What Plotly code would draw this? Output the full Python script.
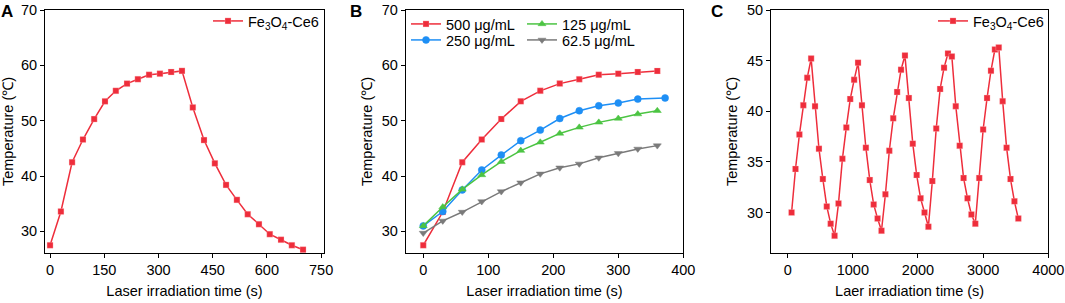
import plotly.graph_objects as go

# ---------------- data ----------------
# Panel A: heating / cooling curve
a_time = [0, 30, 61, 91, 122, 152, 182, 213, 243, 274, 304, 335, 365,
          395, 426, 456, 487, 517, 547, 578, 608, 639, 669, 700]
a_temp = [27.5, 33.6, 42.5, 46.6, 50.3, 53.5, 55.4, 56.7, 57.5, 58.3, 58.5, 58.8, 59.0,
          52.4, 46.5, 42.3, 38.4, 35.7, 33.1, 31.3, 29.5, 28.5, 27.5, 26.7]

# Panel B: concentration dependence
b_time = [0, 30, 60, 90, 120, 150, 180, 210, 240, 270, 300, 330, 360]
b_time_250 = [0, 30, 60, 90, 120, 150, 180, 210, 240, 270, 300, 330, 372]
b_500 = [27.5, 33.5, 42.5, 46.6, 50.3, 53.5, 55.4, 56.7, 57.5, 58.3, 58.5, 58.8, 59.0]
b_250 = [31.0, 33.6, 37.5, 41.1, 43.8, 46.4, 48.3, 50.4, 51.8, 52.7, 53.2, 53.9, 54.1]
b_125 = [31.0, 34.4, 37.6, 40.2, 42.6, 44.6, 46.1, 47.7, 48.8, 49.7, 50.4, 51.2, 51.8]
b_62 = [29.7, 31.9, 33.5, 35.4, 37.2, 38.8, 40.4, 41.5, 42.2, 43.3, 44.1, 44.9, 45.5]

# Panel C: on/off cycles
c_time = [60, 120, 180, 240, 300, 360, 420, 480, 540, 600, 660, 720,
          780, 840, 900, 960, 1020, 1080, 1140, 1200, 1260, 1320, 1380, 1440,
          1500, 1560, 1620, 1680, 1740, 1800, 1860, 1920, 1980, 2040, 2100, 2160,
          2220, 2280, 2340, 2400, 2460, 2520, 2580, 2640, 2700, 2760, 2820, 2880,
          2940, 3000, 3060, 3120, 3180, 3240, 3300, 3360, 3420, 3480, 3540]
c_temp = [30.0, 34.3, 37.7, 40.6, 43.3, 45.2, 40.5, 36.3, 33.3, 30.6, 28.9, 27.7,
          30.9, 35.3, 38.4, 41.2, 43.1, 44.8, 40.6, 36.4, 33.2, 30.8, 29.4, 28.2,
          31.8, 36.1, 39.3, 41.9, 44.1, 45.5, 41.3, 36.8, 33.7, 31.4, 30.0, 28.6,
          33.1, 38.3, 42.2, 44.3, 45.7, 45.4, 40.5, 36.6, 33.4, 31.4, 29.8, 28.9,
          33.4, 38.2, 41.3, 44.0, 46.1, 46.3, 41.0, 36.4, 33.3, 31.1, 29.4]

# ---------------- style ----------------
FONT = "Liberation Sans, Arial, sans-serif"
RED, BLUE, GREEN, GRAY = "#EE2D3B", "#1E8FF5", "#4CC443", "#7A7A7A"
W, H = 1065, 303
FS = 14.5

def px_x(p):
    return p / W

def px_y(p):
    return 1 - p / H

fig = go.Figure()

def add(x, y, name, color, symbol, xa, ya, legend, size=6):
    fig.add_trace(go.Scatter(
        x=x, y=y, name=name, mode="lines+markers",
        line=dict(color=color, width=1.5),
        marker=dict(symbol=symbol, size=size, color=color,
                    line=dict(color="rgba(255,200,200,0.6)" if color == RED else color, width=0.5)),
        xaxis=xa, yaxis=ya, legend=legend))

fe = "Fe<sub>3</sub>O<sub>4</sub>-Ce6"
add(a_time, a_temp, fe, RED, "square", "x", "y", "legend")
add(b_time, b_500, "500 μg/mL", RED, "square", "x2", "y2", "legend2")
add(b_time_250, b_250, "250 μg/mL", BLUE, "circle", "x2", "y2", "legend5", 7)
add(b_time, b_125, "125 μg/mL", GREEN, "triangle-up", "x2", "y2", "legend3", 7)
add(b_time, b_62, "62.5 μg/mL", GRAY, "triangle-down", "x2", "y2", "legend6", 7)
add(c_time, c_temp, fe, RED, "square", "x3", "y3", "legend4")

ydom = [px_y(253), px_y(10)]
axis_common = dict(showline=True, linecolor="black", linewidth=1, mirror=True, automargin=False,
                   ticks="outside", ticklen=4, tickcolor="black", showgrid=False,
                   zeroline=False, tickfont=dict(size=FS, color="black", family=FONT))
title_font = dict(size=FS, color="black", family=FONT)
xt = dict(font=title_font, standoff=8)
yt = dict(font=title_font, standoff=5)

layout = dict(
    template="none",
    width=W, height=H, margin=dict(l=0, r=0, t=0, b=0, autoexpand=False),
    paper_bgcolor="white", plot_bgcolor="white",
    font=dict(family=FONT, size=FS, color="black"),
    showlegend=True,
    xaxis=dict(domain=[px_x(45), px_x(324)], range=[-14, 758], tickvals=[0, 150, 300, 450, 600, 750],
               title=dict(text="Laser irradiation time (s)", **xt), anchor="y", **axis_common),
    yaxis=dict(domain=ydom, range=[26.1, 70], tickvals=[30, 40, 50, 60, 70],
               title=dict(text="Temperature (℃)", **yt), anchor="x", **axis_common),
    xaxis2=dict(domain=[px_x(405.7), px_x(683.3)], range=[-27, 400], tickvals=[0, 100, 200, 300, 400],
                title=dict(text="Laser irradiation time (s)", **xt), anchor="y2", **axis_common),
    yaxis2=dict(domain=ydom, range=[26.1, 70], tickvals=[30, 40, 50, 60, 70],
                title=dict(text="Temperature (℃)", **yt), anchor="x2", **axis_common),
    xaxis3=dict(domain=[px_x(771), px_x(1048.3)], range=[-256, 4000], tickvals=[0, 1000, 2000, 3000, 4000],
                title=dict(text="Laer irradiation time (s)", **xt), anchor="y3", **axis_common),
    yaxis3=dict(domain=ydom, range=[26, 50], tickvals=[30, 35, 40, 45, 50],
                title=dict(text="Temperature (℃)", **yt), anchor="x3", **axis_common),
)

leg_common = dict(bgcolor="rgba(0,0,0,0)", borderwidth=0, font=dict(size=FS, color="black", family=FONT),
                  yanchor="top", itemwidth=30, tracegroupgap=0)
layout["legend"] = dict(x=px_x(208), y=px_y(5), xanchor="left", **leg_common)
layout["legend2"] = dict(x=px_x(406), y=px_y(8), xanchor="left", **leg_common)
layout["legend5"] = dict(x=px_x(406), y=px_y(24), xanchor="left", **leg_common)
layout["legend3"] = dict(x=px_x(522), y=px_y(8), xanchor="left", **leg_common)
layout["legend6"] = dict(x=px_x(522), y=px_y(24), xanchor="left", **leg_common)
layout["legend4"] = dict(x=px_x(933), y=px_y(5), xanchor="left", orientation="h",
                         entrywidth=72, entrywidthmode="pixels", **leg_common)

fig.update_layout(**layout)

for txt, xp in [("A", -1), ("B", 348), ("C", 709)]:
    fig.add_annotation(text="<b>%s</b>" % txt, x=px_x(xp), y=1.0, xref="paper", yref="paper",
                       xanchor="left", yanchor="top", showarrow=False,
                       font=dict(size=17, color="black", family=FONT))

fig.write_html("out.html", config={"displayModeBar": False},
               post_script="document.body.style.margin='0';document.body.style.padding='0';"
                           "document.body.style.overflow='hidden';")
